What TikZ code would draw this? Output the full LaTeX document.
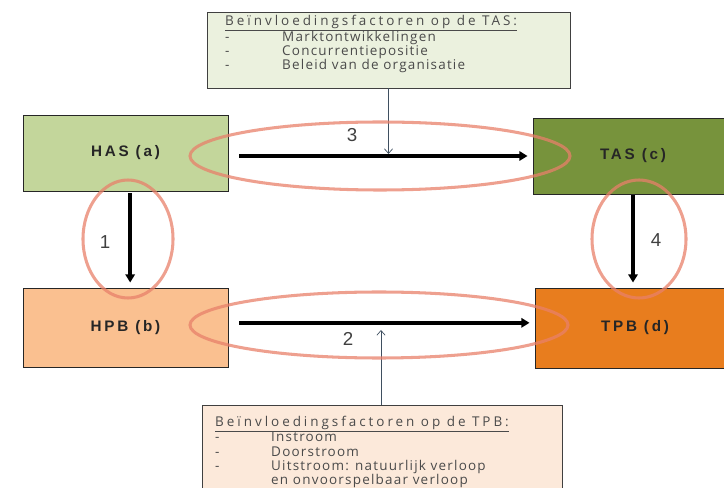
\documentclass[tikz,border=0pt]{standalone}
\usepackage{fontspec}
\setmainfont{Liberation Sans}
\newfontfamily\boxfont[LetterSpace=18]{Liberation Sans}
\newfontfamily\notefont[LetterSpace=9]{Open Sans}
\newfontfamily\headfont[LetterSpace=22]{Open Sans}
\usetikzlibrary{arrows.meta}
\definecolor{hasgreen}{HTML}{C3D69B}
\definecolor{tasgreen}{HTML}{77933C}
\definecolor{hpborange}{HTML}{FAC090}
\definecolor{tpborange}{HTML}{E87D1E}
\definecolor{ringred}{HTML}{E8806A}
\definecolor{tasnote}{HTML}{EBF1DE}
\definecolor{tpbnote}{HTML}{FCE9DA}
\definecolor{notegray}{HTML}{4A4A4A}
\definecolor{feedblue}{HTML}{3F4F60}
\tikzset{block/.style = {draw=black!85, thick, rectangle, minimum width=6.15cm, minimum height=2.28cm,
                         font=\boxfont\bfseries\fontsize{13}{15}\selectfont, text=black!85},
         note/.style = {draw=black!75, thick, rectangle, inner sep=0pt},
         notetext/.style = {inner sep=0pt, anchor=north west, text=notegray,
                            font=\notefont\fontsize{11.5}{12}\selectfont},
         ring/.style = {draw=ringred, line width=2.6pt, opacity=0.75},
         flow/.style = {-{Triangle[length=7pt,width=8pt]}, line width=3.2pt, black},
         feed/.style = {-{Straight Barb[length=4pt,width=7pt]}, line width=0.6pt, draw=feedblue},
         step label/.style = {text=black!75, font=\fontsize{16}{16}\selectfont}}

\begin{document}
\begin{tikzpicture}[x=0.03cm, y=-0.03cm]
        \useasboundingbox (0,0) rectangle (724,488);
        \clip (0,0) rectangle (724,488);

        % blokken
        \node[block, fill=hasgreen] (has) at (125.5,153) {HAS (a)};
        \node[block, fill=tasgreen, minimum width=6cm] (tas) at (633,156) {TAS (c)};
        \node[block, fill=hpborange, minimum height=2.37cm] (hpb) at (125.5,327.5) {HPB (b)};
        \node[block, fill=tpborange, minimum width=6cm, minimum height=2.4cm] (tpb) at (635,328) {TPB (d)};

        % factoren
        \node[note, fill=tasnote, minimum width=10.89cm, minimum height=2.28cm] (tasinfo) at (388.5,50) {};
        \node[notetext] (tastext) at (225,15) {%
            \begin{tabular}{@{}p{1.71cm}@{}l@{}}
            \multicolumn{2}{@{}l@{}}{\headfont\underline{Beïnvloedingsfactoren op de TAS:}}\\
            - & Marktontwikkelingen\\
            - & Concurrentiepositie\\
            - & Beleid van de organisatie
            \end{tabular}};
        \node[note, fill=tpbnote, minimum width=10.8cm, minimum height=3cm] (tpbinfo) at (382,455) {};
        \node[notetext] (tpbtext) at (215,416) {%
            \begin{tabular}{@{}p{1.68cm}@{}l@{}}
            \multicolumn{2}{@{}l@{}}{\headfont\underline{Beïnvloedingsfactoren op de TPB:}}\\
            - & Instroom\\
            - & Doorstroom\\
            - & Uitstroom: natuurlijk verloop\\
              & en onvoorspelbaar verloop
            \end{tabular}};

        % pijlen
        \draw[flow, shorten <=0.33cm, shorten >=0.15cm] (has.east |- tas.west) -- (tas.west);
        \draw[flow, shorten <=0.33cm, shorten >=0.15cm] ([yshift=0.14cm]hpb.east) -- ([yshift=0.14cm]hpb.east -| tpb.west);
        \draw[flow, shorten <=0.06cm, shorten >=0.15cm] ([xshift=0.14cm]has.south) -- ([xshift=0.14cm]hpb.north);
        \draw[flow, shorten <=0.03cm, shorten >=0.15cm] (tas.south) -- (tas.south |- tpb.north);

        \coordinate (tasin) at (388.5,154);
        \coordinate (tpbin) at (381,330);
        \draw[feed] (tasinfo.south) -- (tasin);
        \draw[feed] (tpbinfo.north -| tpbin) -- (tpbin);

        % ringen
        \draw[ring] (380,156) ellipse [x radius=5.7cm, y radius=1.02cm];
        \draw[ring] (379,325) ellipse [x radius=5.67cm, y radius=0.99cm];
        \draw[ring] (128,239) ellipse [x radius=1.35cm, y radius=1.77cm];
        \draw[ring] (639,239) ellipse [x radius=1.41cm, y radius=1.77cm];

        \node[step label] (n3) at (352,135) {3};
        \node[step label] (n1) at (105,242) {1};
        \node[step label] (n4) at (656,240) {4};
        \node[step label] (n2) at (348,339) {2};
\end{tikzpicture}
\end{document}
